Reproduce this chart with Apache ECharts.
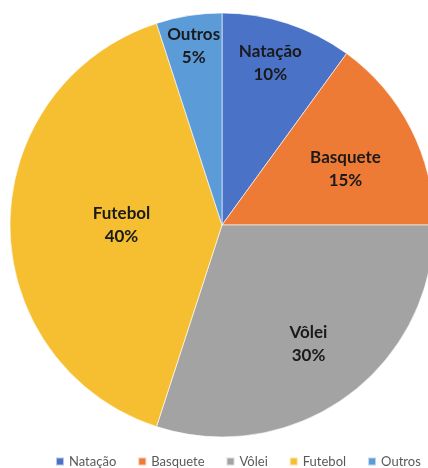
<!DOCTYPE html>
<html>
<head>
<meta charset="utf-8">
<script src="https://cdn.jsdelivr.net/npm/echarts@6/dist/echarts.min.js"></script>
<style>
  html, body { margin: 0; padding: 0; background: #fff; }
  #chart { width: 428px; height: 468px; }
</style>
</head>
<body>
<div id="chart"></div>
<script>
let sports = ['Natação', 'Basquete', 'Vôlei', 'Futebol', 'Outros'];
let shares = [10, 15, 30, 40, 5];
let sliceColors = ['#4a73c8', '#ee7b35', '#a3a3a3', '#f6bf32', '#5b9bd8'];
// how far out (fraction of radius) each label sits, plus a small nudge
let labelRadius = [0.80, 0.65, 0.68, 0.46, 0.84];
let labelNudge = [[-5, 2], [-2, 8], [0, 0], [0, 0], [0, 0]];

let pieRadius = 212;
let total = shares.reduce((a, b) => a + b, 0);

function midAngle(index) {
    let before = 0;
    for (let i = 0; i < index; i++) before += shares[i];
    return (before + shares[index] / 2) / total * 2 * Math.PI;
}

let chart = echarts.init(document.getElementById('chart'));
chart.setOption({
    color: sliceColors,
    textStyle: {
        fontFamily: 'Lato'
    },
    legend: {
        bottom: -5,
        left: 50,
        icon: 'rect',
        itemWidth: 8,
        itemHeight: 8,
        itemGap: 21,
        textStyle: {
            fontSize: 13,
            color: '#595959',
            fontFamily: 'Lato'
        },
        data: sports
    },
    series: [{
        type: 'pie',
        center: [222, 225],
        radius: pieRadius,
        startAngle: 90,
        clockwise: true,
        silent: true,
        itemStyle: {
            borderColor: 'rgba(255,255,255,0.6)',
            borderWidth: 1
        },
        label: {
            position: 'inside',
            formatter: '{b}\n{c}%',
            fontSize: 17,
            fontWeight: 'bold',
            color: '#1a1a1a',
            lineHeight: 23,
            fontFamily: 'Lato'
        },
        labelLayout: function (params) {
            let i = params.dataIndex;
            let a = midAngle(i);
            let shift = (labelRadius[i] - 0.5) * pieRadius;
            return {
                dx: shift * Math.sin(a) + labelNudge[i][0],
                dy: -shift * Math.cos(a) + labelNudge[i][1]
            };
        },
        data: sports.map((name, i) => ({ name: name, value: shares[i] }))
    }]
});
</script>
</body>
</html>
